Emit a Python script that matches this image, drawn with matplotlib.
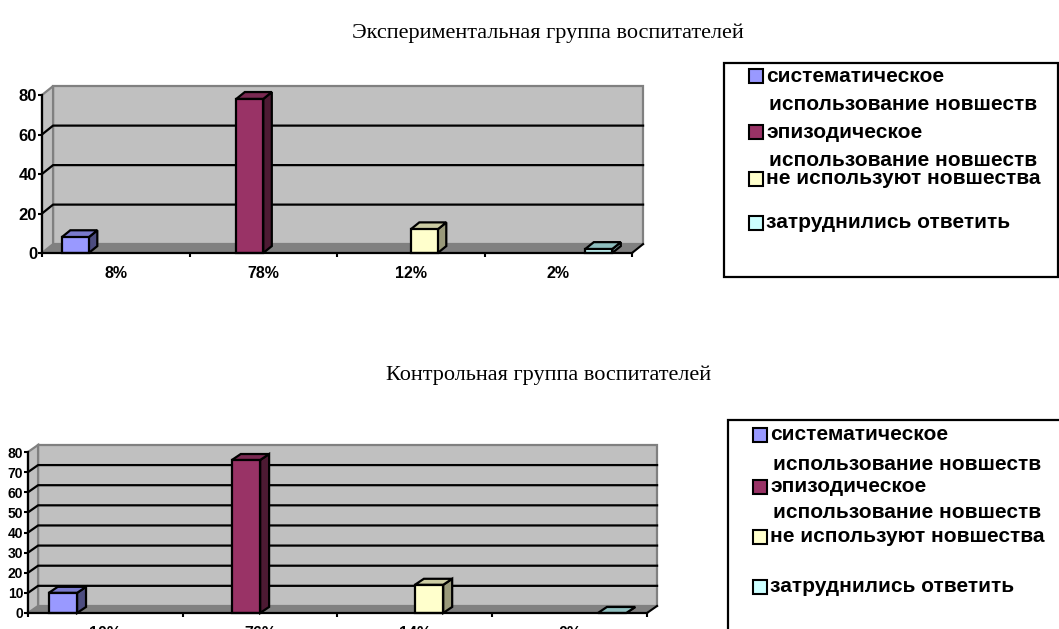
import matplotlib.pyplot as plt
from matplotlib.patches import Polygon, Rectangle

plt.rcParams['font.family'] = ['Liberation Sans', 'DejaVu Sans']

W, H = 1059, 629

# series shared by both charts
series_names = [
    ['систематическое', 'использование новшеств'],
    ['эпизодическое', 'использование новшеств'],
    ['не используют новшества'],
    ['затруднились ответить'],
]
face_colors = ['#9999FF', '#993366', '#FFFFCC', '#CCFFFF']
top_colors = ['#7A7ACC', '#7A2952', '#CCCCA3', '#8FBFBF']
side_colors = ['#4D4D80', '#4D1A33', '#99997A', '#7A9999']

# experimental group
exp_title = 'Экспериментальная группа воспитателей'
exp_values = [8, 78, 12, 2]
exp_labels = ['8%', '78%', '12%', '2%']
exp_ticks = [0, 20, 40, 60, 80]

# control group
ctl_title = 'Контрольная группа воспитателей'
ctl_values = [10, 76, 14, 0]
ctl_labels = ['10%', '76%', '14%', '0%']
ctl_ticks = [0, 10, 20, 30, 40, 50, 60, 70, 80]


def fx(x):
    return x / W


def fy(y):
    return 1 - y / H


def draw_chart(ax, values, labels, ticks, wall_depth, bar_depth, tick_size, label_size):
    n = len(values)
    ymax = ticks[-1]
    dx, dy = wall_depth
    bdx, bdy = bar_depth

    # walls and floor
    ax.add_patch(Polygon([(dx, dy), (n + dx, dy), (n + dx, ymax + dy), (dx, ymax + dy)],
                         fc='#C0C0C0', ec='#808080', lw=1.6, clip_on=False, zorder=0))
    ax.add_patch(Polygon([(0, 0), (dx, dy), (dx, ymax + dy), (0, ymax)],
                         fc='#C0C0C0', ec='#808080', lw=1.6, clip_on=False, zorder=0))
    ax.add_patch(Polygon([(0, 0), (n, 0), (n + dx, dy), (dx, dy)],
                         fc='#808080', ec='none', clip_on=False, zorder=0))
    ax.plot([n, n + dx], [0, dy], color='black', lw=1.5, clip_on=False, zorder=1)

    for t in ticks[1:-1]:
        ax.plot([0, dx, n + dx], [t, t + dy, t + dy], color='black', lw=1.6,
                clip_on=False, zorder=1)

    # one series per category, clustered like a 4-series column chart
    bw = 0.183
    for i, v in enumerate(values):
        x0 = i + 0.5 + (i - 1.5) * bw - bw / 2
        x1 = x0 + bw
        kw = dict(ec='black', lw=1.6, joinstyle='miter', clip_on=False, zorder=3)
        ax.add_patch(Polygon([(x1, 0), (x1 + bdx, bdy), (x1 + bdx, v + bdy), (x1, v)],
                             fc=side_colors[i], **kw))
        ax.add_patch(Polygon([(x0, v), (x0 + bdx, v + bdy), (x1 + bdx, v + bdy), (x1, v)],
                             fc=top_colors[i], **kw))
        if v > 0:
            ax.add_patch(Polygon([(x0, 0), (x1, 0), (x1, v), (x0, v)],
                                 fc=face_colors[i], **kw))

    ax.set_xlim(0, n)
    ax.set_ylim(0, ymax)
    for s in ['top', 'right']:
        ax.spines[s].set_visible(False)
    for s in ['left', 'bottom']:
        ax.spines[s].set_linewidth(1.6)
        ax.spines[s].set_zorder(4)
    ax.patch.set_visible(False)

    ax.set_yticks(ticks)
    ax.set_yticklabels([str(t) for t in ticks], fontsize=tick_size, fontweight='bold')
    ax.tick_params(axis='y', direction='out', length=3, width=1.5, pad=0.5)

    ax.set_xticks(range(n + 1))
    ax.set_xticklabels([])
    ax.tick_params(axis='x', which='major', direction='out', length=3, width=1.5)
    ax.set_xticks([i + 0.5 for i in range(n)], minor=True)
    ax.set_xticklabels(labels, minor=True, fontsize=label_size, fontweight='bold')
    ax.tick_params(axis='x', which='minor', length=0, pad=9)


def draw_legend(left, top, right, bottom, first_rows, second_rows, size):
    fig.add_artist(Rectangle((fx(left), fy(bottom)), fx(right - left), (bottom - top) / H,
                             transform=fig.transFigure, fill=False, ec='black', lw=1.6))
    for i, name in enumerate(series_names):
        y = first_rows[i]
        fig.add_artist(Rectangle((fx(left + 25), fy(y + 7)), fx(14), 14 / H,
                                 transform=fig.transFigure, fc=face_colors[i],
                                 ec='black', lw=1.5))
        fig.text(fx(left + 42), fy(y), name[0], fontsize=size, fontweight='bold',
                 va='center', ha='left')
        if len(name) > 1:
            fig.text(fx(left + 45), fy(second_rows[i]), name[1], fontsize=size,
                     fontweight='bold', va='center', ha='left')


fig = plt.figure(figsize=(W / 100, H / 100), dpi=100)

# experimental group chart
ax1 = fig.add_axes([fx(42), fy(253), fx(632 - 42), (253 - 95) / H])
draw_chart(ax1, exp_values, exp_labels, exp_ticks,
           wall_depth=(0.075, 4.5), bar_depth=(0.058, 3.5),
           tick_size=12, label_size=11.5)
fig.text(fx(548), fy(33), exp_title, fontsize=16, family='Liberation Serif',
         ha='center', va='center')
draw_legend(724, 63, 1058, 277, [76, 132, 179, 223], [105, 160], 15)

# control group chart
ax2 = fig.add_axes([fx(28), fy(613), fx(647 - 28), (613 - 452) / H])
draw_chart(ax2, ctl_values, ctl_labels, ctl_ticks,
           wall_depth=(0.065, 3.5), bar_depth=(0.058, 3.0),
           tick_size=10, label_size=11.5)
fig.text(fx(549), fy(375), ctl_title, fontsize=16, family='Liberation Serif',
         ha='center', va='center')
draw_legend(728, 420, 1080, 660, [435, 487, 537, 587], [465, 513], 15)

fig.savefig('out.png', dpi=100)
